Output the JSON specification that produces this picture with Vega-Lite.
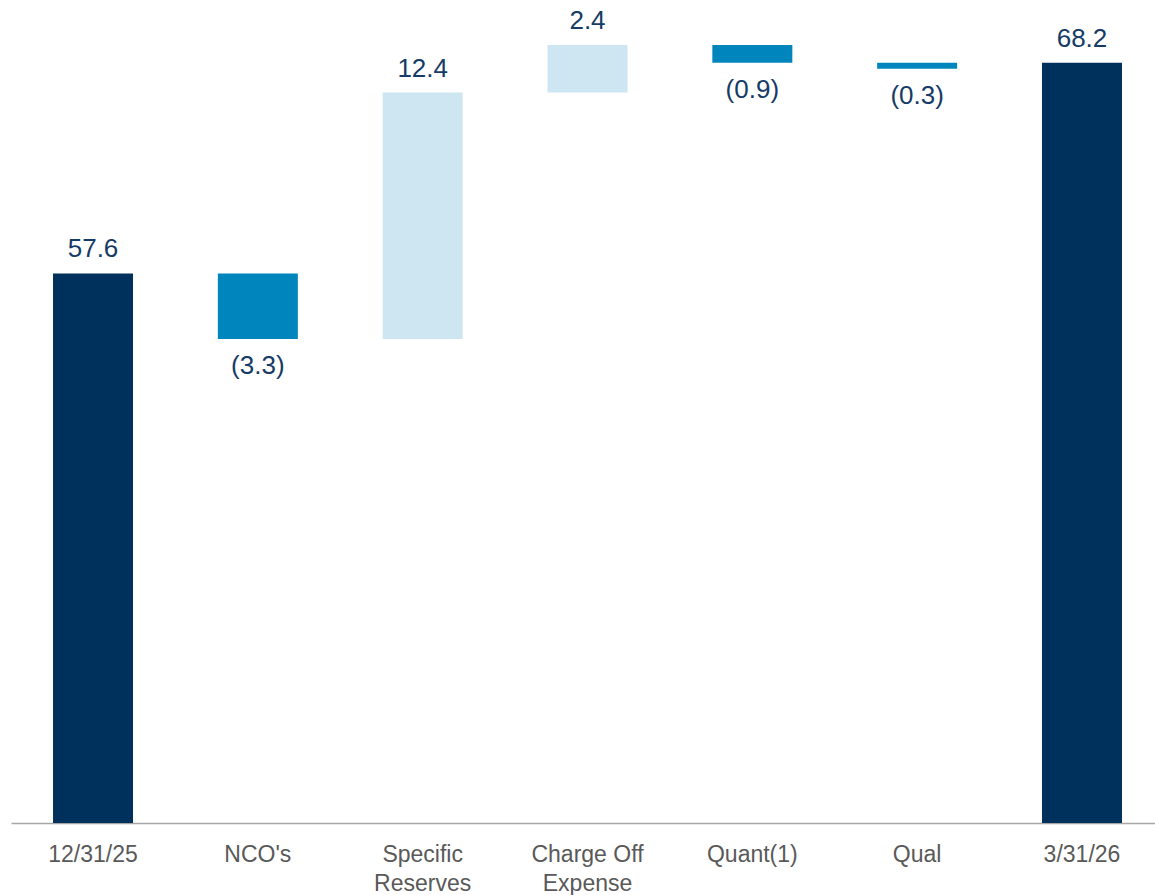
{
  "$schema": "https://vega.github.io/schema/vega-lite/v6.json",
  "width": 1144,
  "height": 823,
  "autosize": {"type": "none"},
  "padding": {"left": 11, "top": 0, "right": 0, "bottom": 72},
  "background": "white",
  "config": {
    "view": {"stroke": null},
    "font": "Liberation Sans"
  },
  "data": {
    "values": [
      {"category": "12/31/25", "start": 0, "end": 57.6, "label": "57.6", "type": "total"},
      {"category": "NCO's", "start": 57.6, "end": 54.3, "label": "(3.3)", "type": "decrease"},
      {"category": "Specific Reserves", "start": 54.3, "end": 66.7, "label": "12.4", "type": "increase"},
      {"category": "Charge Off Expense", "start": 66.7, "end": 69.1, "label": "2.4", "type": "increase"},
      {"category": "Quant(1)", "start": 69.1, "end": 68.2, "label": "(0.9)", "type": "decrease"},
      {"category": "Qual", "start": 68.2, "end": 67.9, "label": "(0.3)", "type": "decrease"},
      {"category": "3/31/26", "start": 0, "end": 68.2, "label": "68.2", "type": "total"}
    ]
  },
  "encoding": {
    "x": {
      "field": "category",
      "type": "nominal",
      "sort": null,
      "title": null,
      "scale": {"paddingInner": 0.5147, "paddingOuter": 0.2276, "align": 0.56, "round": false},
      "axis": {
        "labelAngle": 0,
        "labelFont": "Liberation Sans",
        "labelFontSize": 23,
        "labelColor": "#595959",
        "labelPadding": 20,
        "labelLineHeight": 29,
        "ticks": false,
        "tickSize": 0,
        "domainColor": "#A6A6A6",
        "domainWidth": 1.5,
        "grid": false,
        "labelExpr": "datum.label == 'Specific Reserves' ? ['Specific', 'Reserves'] : datum.label == 'Charge Off Expense' ? ['Charge Off', 'Expense'] : datum.label"
      }
    }
  },
  "layer": [
    {
      "mark": {"type": "bar", "clip": true},
      "encoding": {
        "y": {
          "field": "start",
          "type": "quantitative",
          "scale": {"domain": [29.94, 71.36], "zero": false, "nice": false},
          "axis": null
        },
        "y2": {"field": "end"},
        "color": {
          "field": "type",
          "type": "nominal",
          "scale": {"domain": ["total", "decrease", "increase"], "range": ["#00305C", "#0086BC", "#CEE5F2"]},
          "legend": null
        }
      }
    },
    {
      "transform": [{"filter": "datum.type != 'decrease'"}],
      "mark": {"type": "text", "font": "Liberation Sans", "fontSize": 26, "color": "#153B66", "baseline": "middle", "dy": -24},
      "encoding": {
        "y": {"field": "end", "type": "quantitative"},
        "text": {"field": "label"}
      }
    },
    {
      "transform": [{"filter": "datum.type == 'decrease'"}],
      "mark": {"type": "text", "font": "Liberation Sans", "fontSize": 26, "color": "#153B66", "baseline": "middle", "dy": 27},
      "encoding": {
        "y": {"field": "end", "type": "quantitative"},
        "text": {"field": "label"}
      }
    }
  ]
}
